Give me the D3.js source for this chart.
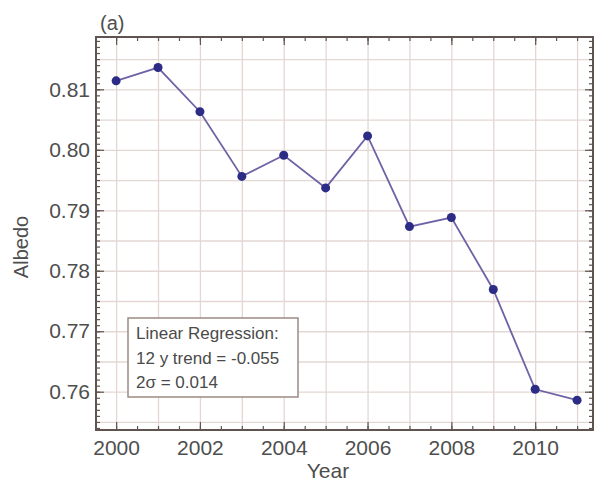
<!DOCTYPE html>
<html><head><meta charset="utf-8">
<script src="https://cdn.jsdelivr.net/npm/d3@7"></script>
<style>body{margin:0;background:#fff;}svg{display:block;font-family:"Liberation Sans",Arial,sans-serif;}</style>
</head><body><div id="chart"></div>
<script>
const years = [2000,2001,2002,2003,2004,2005,2006,2007,2008,2009,2010,2011];
const albedo = [0.8114,0.8136,0.8063,0.7956,0.7991,0.7937,0.8023,0.7873,0.7888,0.7769,0.7604,0.7586];
const xTickLabels = [2000,2002,2004,2006,2008,2010];
const yTickLabels = [0.76,0.77,0.78,0.79,0.80,0.81];
const legendLines = ["Linear Regression:","12 y trend = -0.055","2\u03c3 = 0.014"];
const panelLabel = "(a)";

const W=598,H=482;
const m={left:96,right:5,top:37,bottom:52};
const iw=W-m.left-m.right, ih=H-m.top-m.bottom;
const svg=d3.select("#chart").append("svg").attr("width",W).attr("height",H);
const g=svg.append("g").attr("transform",`translate(${m.left},${m.top})`);
const x=d3.scaleLinear().domain([1999.52,2011.38]).range([0,iw]);
const y=d3.scaleLinear().domain([0.75367,0.81865]).range([ih,0]);
const textCol="#4e4e4e", frameCol="#5f5450", gridCol="#e3d7d4";

// grid
const xGrid=d3.range(2000,2012,1), yGrid=d3.range(0.755,0.8151,0.005);
g.append("g").call(d3.axisBottom(x).tickValues(xGrid).tickSize(ih).tickFormat(""))
 .call(s=>{s.select(".domain").remove();s.selectAll("line").attr("stroke",gridCol).attr("stroke-width",1.3);});
g.append("g").call(d3.axisLeft(y).tickValues(yGrid).tickSize(-iw).tickFormat(""))
 .call(s=>{s.select(".domain").remove();s.selectAll("line").attr("stroke",gridCol).attr("stroke-width",1.3);});

// ticks (inward)
const xMinor=d3.range(1999.5,2011.5,0.5).filter(v=>v>=1999.52&&v<=2011.38);
const yMinor=d3.range(0.754,0.8185,0.001);
function tickAxis(axisFn,scale,vals,size){
  return g.append("g").call(axisFn(scale).tickValues(vals).tickSize(size).tickFormat(""))
   .call(s=>{s.select(".domain").remove();s.selectAll("line").attr("stroke",frameCol).attr("stroke-width",1.2);});
}
tickAxis(d3.axisBottom,x,xMinor,-4).attr("transform",`translate(0,${ih})`);
tickAxis(d3.axisBottom,x,xTickLabels,-8).attr("transform",`translate(0,${ih})`);
tickAxis(d3.axisTop,x,xMinor,-4);
tickAxis(d3.axisTop,x,xTickLabels,-8);
tickAxis(d3.axisLeft,y,yMinor,-4);
tickAxis(d3.axisLeft,y,yTickLabels,-8);
tickAxis(d3.axisRight,y,yMinor,-4).attr("transform",`translate(${iw},0)`);
tickAxis(d3.axisRight,y,yTickLabels,-8).attr("transform",`translate(${iw},0)`);

// labels
g.append("g").attr("transform",`translate(0,${ih})`)
 .call(d3.axisBottom(x).tickValues(xTickLabels).tickSize(0).tickPadding(10).tickFormat(d3.format("d")))
 .call(s=>{s.select(".domain").remove();s.selectAll("text").attr("fill",textCol).attr("font-size",21).attr("font-family","Liberation Sans, Arial, sans-serif");});
g.append("g")
 .call(d3.axisLeft(y).tickValues(yTickLabels).tickSize(0).tickPadding(6).tickFormat(d3.format(".2f")))
 .call(s=>{s.select(".domain").remove();s.selectAll("text").attr("fill",textCol).attr("font-size",21).attr("font-family","Liberation Sans, Arial, sans-serif");});

// frame
g.append("rect").attr("width",iw).attr("height",ih).attr("fill","none").attr("stroke",frameCol).attr("stroke-width",2);

// line + points
g.append("path").datum(years.map((yr,i)=>[yr,albedo[i]]))
 .attr("d",d3.line().x(d=>x(d[0])).y(d=>y(d[1])))
 .attr("fill","none").attr("stroke","#6f63a6").attr("stroke-width",1.8);
g.selectAll("circle.pt").data(years.map((yr,i)=>[yr,albedo[i]])).join("circle")
 .attr("class","pt").attr("cx",d=>x(d[0])).attr("cy",d=>y(d[1])).attr("r",4.5).attr("fill","#2c2c86");

// legend box
const lg=svg.append("g").attr("transform","translate(128,318)");
lg.append("rect").attr("width",170).attr("height",79).attr("fill","#fff").attr("stroke","#9c8a84").attr("stroke-width",1.5);
lg.selectAll("text").data(legendLines).join("text")
 .attr("x",8).attr("y",(d,i)=>21+i*24.5).attr("fill","#4a4a4a").attr("font-size",17).text(d=>d);

// axis titles
svg.append("text").attr("x",328).attr("y",478).attr("text-anchor","middle").attr("fill",textCol).attr("font-size",21).text("Year");
svg.append("text").attr("transform","translate(28,247) rotate(-90)").attr("text-anchor","middle").attr("fill",textCol).attr("font-size",20).text("Albedo");
svg.append("text").attr("x",100).attr("y",30).attr("fill",textCol).attr("font-size",20).text(panelLabel);
</script></body></html>
